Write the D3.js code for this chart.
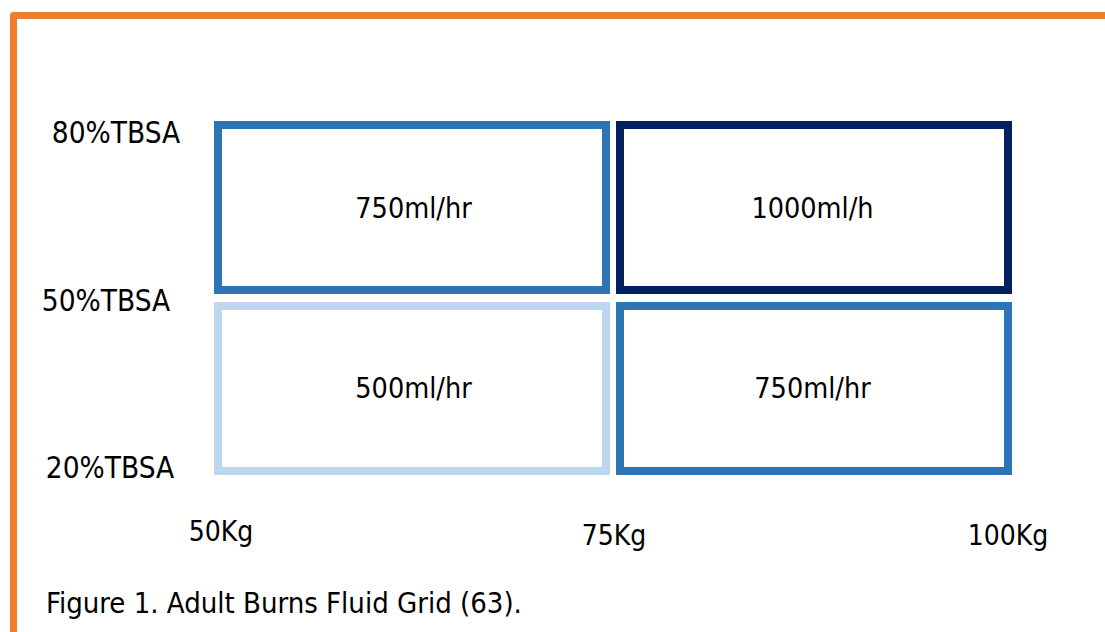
<!DOCTYPE html>
<html><head><meta charset="utf-8">
<script src="https://cdn.jsdelivr.net/npm/d3@7"></script>
<style>body{margin:0;background:#fff}svg{display:block}text{font-family:"DejaVu Sans Condensed","DejaVu Sans",sans-serif;font-stretch:condensed;fill:#000}</style>
</head><body><svg id="c" width="1105" height="632"></svg>
<script>
const weightTicks = [50, 75, 100];
const weightLabels = ["50Kg", "75Kg", "100Kg"];
const tbsaTicks = [80, 50, 20];
const tbsaLabels = ["80%TBSA", "50%TBSA", "20%TBSA"];
const cellW0 = [50, 75, 50, 75];
const cellW1 = [75, 100, 75, 100];
const cellT0 = [50, 50, 20, 20];
const cellT1 = [80, 80, 50, 50];
const cellRates = ["750ml/hr", "1000ml/h", "500ml/hr", "750ml/hr"];
const cellLevels = ["mid", "high", "low", "mid"];
const caption = "Figure 1. Adult Burns Fluid Grid (63).";

const svg = d3.select("#c");
const x = d3.scaleLinear().domain([50, 100]).range([214, 1012]);
const y = d3.scaleLinear().domain([20, 80]).range([475, 121]);
const yLab = d3.scaleLinear().domain([20, 80]).range([468, 133]);
const color = d3.scaleOrdinal().domain(["low", "mid", "high"]).range(["#BDD7EE", "#2E75B6", "#002060"]);

// orange frame
svg.append("path")
  .attr("d", "M13.5,640 L13.5,15.5 L1110,15.5")
  .attr("fill", "none").attr("stroke", "#ED7D31").attr("stroke-width", 7).attr("stroke-linejoin", "round");

const gap = 3, sw = 8;
const cells = cellRates.map((r, i) => ({w0: cellW0[i], w1: cellW1[i], t0: cellT0[i], t1: cellT1[i], rate: r, level: cellLevels[i]}));
const g = svg.append("g");
g.selectAll("rect").data(cells).join("rect")
  .attr("x", d => x(d.w0) + (d.w0 === 50 ? 0 : gap) + sw / 2)
  .attr("y", d => y(d.t1) + (d.t1 === 80 ? 0 : gap + 1) + sw / 2)
  .attr("width", d => x(d.w1) - x(d.w0) - gap - sw)
  .attr("height", d => y(d.t0) - y(d.t1) - gap - 1 - sw)
  .attr("fill", "none").attr("stroke", d => color(d.level)).attr("stroke-width", sw);

g.selectAll("text.rate").data(cells).join("text").attr("class", "rate")
  .attr("x", d => (x(d.w0) + x(d.w1)) / 2)
  .attr("y", d => (y(d.t0) + y(d.t1)) / 2 + (d.t0 === 20 ? 2 : -1))
  .attr("dy", "0.35em").attr("text-anchor", "middle").attr("font-size", 28.5)
  .text(d => d.rate);

// y labels
svg.selectAll("text.ylab").data(tbsaTicks).join("text").attr("class", "ylab")
  .attr("x", d => d === 80 ? 116 : d === 50 ? 106 : 110).attr("y", d => yLab(d))
  .attr("dy", "0.35em").attr("text-anchor", "middle").attr("font-size", 29.5)
  .text((d, i) => tbsaLabels[i]);

// x labels
svg.selectAll("text.xlab").data(weightTicks).join("text").attr("class", "xlab")
  .attr("x", d => x(d) + (d === 50 ? 7 : d === 100 ? -4 : 1)).attr("y", d => d === 50 ? 531 : 535)
  .attr("dy", "0.35em").attr("text-anchor", "middle").attr("font-size", 28)
  .text((d, i) => weightLabels[i]);

svg.append("text").attr("x", 46).attr("y", 603).attr("dy", "0.35em")
  .attr("font-size", 29).text(caption);
</script></body></html>
